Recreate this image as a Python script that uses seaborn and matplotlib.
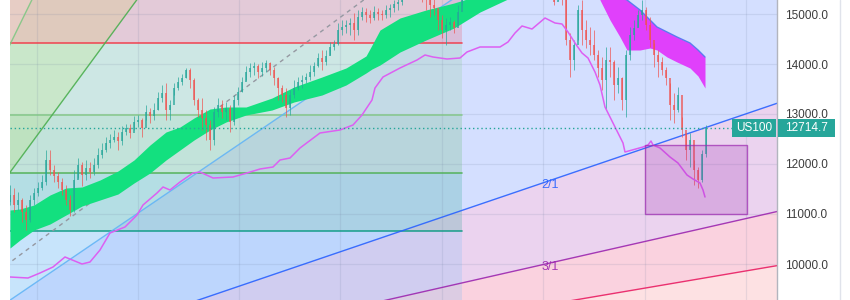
import numpy as np
import matplotlib
matplotlib.use("Agg")
import matplotlib.pyplot as plt
import seaborn as sns
from matplotlib.patches import Rectangle
from matplotlib.lines import Line2D
from matplotlib.transforms import blended_transform_factory

# ---------------- data (bar index on x, price on y) ----------------
first_open = 11250
closes = [11380,11180,11280,11040,10880,11280,11420,11520,11640,12080,
 11880,11760,11640,11480,11280,11080,11680,11980,11780,11920,
 11840,11980,12180,12280,12420,12480,12540,12460,12640,12720,
 12620,12840,12880,12720,13040,12960,13080,13320,13420,13080,
 13180,13520,13640,13720,13880,13680,13280,13080,12920,12780,
 12480,13040,13180,13040,13120,12840,13280,13440,13640,13840,
 13920,13960,13840,13920,14020,13880,13720,13520,13380,13120,
 13380,13520,13640,13680,13740,13840,13960,14120,14040,14160,
 14340,14400,14680,14740,14780,14820,14680,14940,15040,14980,
 14920,15040,15000,14980,15080,15120,15200,15240,15380,15440,
 15520,15580,15480,15380,15320,15180,15120,14880,14680,14780,
 14840,14720,15040,15380,15580,15780,15880,15980,15880,16080,
 16180,16080,16280,16380,16520,16680,16580,16720,16480,16380,
 16520,16280,15980,16180,15880,15580,15240,15480,15380,14480,
 14080,14380,15080,14680,14480,14380,14180,13920,13680,14080,
 14040,13580,13720,13280,14180,14580,14720,14980,15080,14780,
 14480,14180,14040,13880,13720,13180,13080,13380,12680,12280,
 12480,11880,11680,12200,12714.7]
highs = [11580,11520,11440,11320,11180,11380,11520,11640,11780,12280,
 12280,11980,11840,11720,11580,11380,11880,12120,12040,12080,
 12040,12120,12320,12420,12540,12600,12680,12640,12760,12800,
 12800,12960,12980,12920,13180,13120,13220,13440,13580,13620,
 13280,13620,13740,13800,13920,13920,13720,13320,13320,13080,
 12880,13140,13320,13280,13240,13180,13380,13540,13740,13960,
 14020,14040,14000,14040,14080,14040,13940,13740,13580,13520,
 13480,13680,13740,13780,13820,13980,14040,14220,14280,14280,
 14440,14480,14820,14880,14880,14920,15020,15080,15140,15120,
 15080,15160,15120,15080,15180,15200,15280,15340,15480,15560,
 15640,15680,15640,15520,15480,15380,15320,15080,14980,14920,
 14940,14880,15180,15480,15700,15880,15980,16080,16020,16180,
 16280,16220,16380,16480,16600,16740,16720,16760,16740,16560,
 16600,16560,16320,16260,16200,15900,15480,15680,15580,15380,
 14620,14480,15180,15280,14880,14740,14680,14280,14140,14340,
 14340,14080,13940,13740,14280,14740,14880,15080,15280,15140,
 14940,14420,14280,14140,13940,13620,13420,13540,12940,12620,
 12620,12080,11940,12280,12780]
lows = [11180,11040,11080,10840,10680,10840,11180,11360,11480,11580,
 11780,11640,11520,11380,11180,10960,11040,11720,11560,11680,
 11720,11780,11920,12120,12240,12320,12440,12280,12380,12580,
 12520,12680,12740,12540,12880,12820,12880,13080,13240,12880,
 12880,13380,13480,13580,13720,13520,13180,12940,12680,12480,
 12280,12380,12940,12920,12880,12640,12780,13180,13440,13680,
 13740,13780,13720,13760,13840,13780,13580,13280,13240,12940,
 12980,13320,13480,13520,13620,13680,13760,13940,13880,13980,
 14180,14280,14380,14580,14620,14580,14480,14580,14880,14840,
 14820,14880,14880,14880,14920,14940,15040,15080,15180,15320,
 15380,15440,15360,15240,15080,14940,14980,14680,14520,14380,
 14680,14620,14780,15180,15400,15560,15740,15820,15780,15860,
 16020,15980,16060,16240,16340,16480,16460,16540,16400,16240,
 16300,16180,15880,15940,15780,15480,15180,15280,15180,14380,
 13740,13880,14480,14380,14320,14180,14080,13740,13480,13080,
 13740,13280,13420,13080,12940,14080,14480,14740,14880,14680,
 14340,13940,13740,13780,13580,12880,12820,13040,12540,12080,
 11940,11580,11520,11640,12150]
last_price = 12714.7
symbol = "US100"

# MA band (green)
band_x  = [0, 2.5, 6, 10, 14, 18, 22.5, 27, 31, 35, 39, 42.5, 46, 50, 54, 59, 65.5, 71, 78, 84, 89, 90.5, 92.5, 97.5, 104, 111, 117.5, 125, 135]
band_hi = [11080,11100,11180,11380,11520,11540,11680,11860,12080,12380,12640,12740,12920,13100,13140,13140,13320,13540,13740,13920,14160,14380,14680,14920,15080,15220,15380,15580,16200]
band_lo = [10320,10480,10680,10800,10980,11160,11280,11400,11620,11820,12080,12280,12480,12680,12840,12980,13080,13240,13380,13580,13820,13900,13980,14240,14480,14720,15040,15320,15800]

# magenta moving average
ma_x = [0,4.5,7.5,10.75,13.75,18,20,22.5,25,28.75,31.75,33.25,36.75,38.25,40,42.5,45.75,47.5,50.75,55.75,59.25,62.5,65.75,67.5,70,72.5,77.5,82.5,85.75,88,90.5,91.25,93.25,97.5,101.75,103.75,105.75,109.25,112.5,114.25,117.5,122.5,124.5,126.25,128,130.5,133.75,136.25,138,139.5,141.25,143,144.5,146.25,147.5,148.75,150.75,153.25,153.75,158.25,159.5,160.25,160.75,162.5,165,167,169.25,170.75,172.5,173.25,173.75]
ma_y = [9740,9720,9820,9940,10140,10000,10040,10280,10620,10740,10980,11180,11420,11540,11480,11640,11820,11840,11720,11740,11820,11900,11940,12080,12120,12320,12620,12680,12780,12980,13280,13520,13740,13920,14080,14180,14140,14100,14120,14240,14340,14340,14440,14620,14760,14700,14920,14820,14800,14640,14420,14220,14120,13840,13580,13140,12820,12420,12240,12340,12380,12460,12380,12320,12140,12020,11780,11700,11620,11480,11340]

# magenta cloud
cloud_x  = [147.5,150,152.5,154.25,157.5,160,161.75,164.25,166.75,170,172,173.75]
cloud_hi = [15580,15440,15340,15280,15080,14880,14740,14640,14540,14420,14280,14140]
cloud_lo = [15280,14880,14540,14280,14280,14320,14280,14140,14040,13920,13760,13520]

# Gann fan
gann_origin = (-47, 6720)
gann_unit_slope = 54.4
gann_names  = ["1/4", "1/3", "1/2", "1/1", "2/1", "3/1", "4/1", "8/1"]
gann_ratio  = [4, 3, 2, 1, 1/2, 1/3, 1/4, 1/8]
gann_colors = ["#089981", "#81C784", "#4CAF50", "#64B5F6", "#2962FF", "#9C27B0", "#E91E63", "#F23645"]

# Fibonacci retracement
fib_low  = (-52.75, 6900)
fib_high = (113, 16740)
fib_levels = [0, 0.236, 0.382, 0.5, 0.618, 0.786, 1]
fib_colors = ["#787B86", "#F23645", "#81C784", "#4CAF50", "#089981", "#64B5F6", "#787B86"]

# rectangle zone
rect_x = (158.75, 184.25)
rect_y = (11000, 12380)

grid_x = [6.75, 32, 57.25, 82.5, 108, 133.25, 158.75, 184]
price_ticks = [10000, 11000, 12000, 13000, 14000, 15000]

# ---------------- plot ----------------
sns.set_theme(style="white")
plt.rcParams["font.family"] = ["Liberation Sans", "DejaVu Sans"]

fig = plt.figure(figsize=(8.5, 3), dpi=100)
fig.patch.set_facecolor("white")
ax = fig.add_axes([10/850, 0, 767/850, 1])
ax.set_facecolor("white")
X0, X1 = 0, 191.75
ax.set_xlim(X0, X1)
ax.set_ylim(9280, 15280)

# Gann fan zones
gx = np.array([gann_origin[0], X1 + 5])
glines = [gann_origin[1] + gann_unit_slope * r * (gx - gann_origin[0]) for r in gann_ratio]
for k in range(len(glines) - 1):
    a = 0.15 if k == len(glines) - 2 else 0.2
    ax.fill_between(gx, glines[k], glines[k + 1], color=gann_colors[k + 1], alpha=a, lw=0, zorder=0)

# Fib bands
fx = np.array([fib_low[0], fib_high[0]])
fib_prices = [fib_high[1] - lv * (fib_high[1] - fib_low[1]) for lv in fib_levels]
for k in range(len(fib_prices) - 1):
    ax.fill_between(fx, fib_prices[k], fib_prices[k + 1], color=fib_colors[k + 1], alpha=0.2, lw=0, zorder=1)

# grid
for gxv in grid_x:
    ax.axvline(gxv, color="#6f7fa0", alpha=0.15, lw=0.9, zorder=1.5)
for p in price_ticks:
    ax.axhline(p, color="#6f7fa0", alpha=0.15, lw=0.9, zorder=1.5)

# green band
ax.fill_between(band_x, band_lo, band_hi, color="#13E07F", lw=0, zorder=3)
# magenta cloud
ax.fill_between(cloud_x, cloud_lo, cloud_hi, color="#E040FB", lw=0, zorder=3)
ax.plot(cloud_x, cloud_hi, color="#5B7BF0", lw=1, zorder=3.2)

# fib lines and trend line
for k, pr in enumerate(fib_prices):
    ax.plot(fx, [pr, pr], color=fib_colors[k], lw=1.2, alpha=0.85, zorder=2)
ax.plot([fib_low[0], fib_high[0]], [fib_low[1], fib_high[1]], color="#9598a1", lw=1,
        dashes=(3, 3), zorder=2.5)

# Gann lines
for k, gl in enumerate(glines):
    ax.plot(gx, gl, color=gann_colors[k], lw=1, alpha=0.9, zorder=2.2)

# candles
opens = [first_open] + closes[:-1]
idx = np.arange(len(closes))
for i, o, h, l, c in zip(idx, opens, highs, lows, closes):
    col = "#26A69A" if c >= o else "#EF5350"
    ax.plot([i, i], [l, h], color=col, lw=0.7, alpha=0.7, zorder=4, solid_capstyle="butt")
    lo_b, hi_b = min(o, c), max(o, c)
    if hi_b - lo_b < 20:
        hi_b = lo_b + 20
    ax.add_patch(Rectangle((i - 0.3, lo_b), 0.6, hi_b - lo_b, facecolor=col, edgecolor="none",
                           alpha=0.7, zorder=4))

# magenta MA line
sns.lineplot(x=ma_x, y=ma_y, ax=ax, color="#DD5FF2", lw=1.1, zorder=5, estimator=None, sort=False)

# rectangle
ax.add_patch(Rectangle((rect_x[0], rect_y[0]), rect_x[1] - rect_x[0], rect_y[1] - rect_y[0],
                       facecolor=(0.612, 0.153, 0.69, 0.22), edgecolor=(0.612, 0.153, 0.69, 0.7),
                       lw=1, zorder=5))

# gann labels
ratio_map = dict(zip(gann_names, gann_ratio))
lab_x = 135
for name, col in [("2/1", "#2962FF"), ("3/1", "#9C27B0")]:
    py = gann_origin[1] + gann_unit_slope * ratio_map[name] * (lab_x - gann_origin[0])
    ax.text(lab_x, py - 90, name, color=col, alpha=0.9, fontsize=9, ha="center", va="center", zorder=6)

# last price line
ax.axhline(last_price, color="#26A69A", lw=1, ls=(0, (1, 2)), zorder=6)

# axes styling
for s in ["left", "top", "bottom"]:
    ax.spines[s].set_visible(False)
ax.spines["right"].set_color("#b2b5be")
ax.spines["right"].set_linewidth(1)
ax.yaxis.tick_right()
ax.set_yticks(price_ticks)
ax.set_yticklabels([f"{p:.1f}" for p in price_ticks])
ax.tick_params(axis="y", length=0, pad=6, labelsize=8.5, labelcolor="#3c3c3c")
ax.set_xticks([])

# price tags
tr = blended_transform_factory(ax.transAxes, ax.transData)
ax.add_patch(Rectangle((0.9413, last_price - 180), 0.0574, 360, transform=tr, facecolor="#26A69A",
                       edgecolor="none", clip_on=False, zorder=10))
ax.text(0.970, last_price, symbol, transform=tr, color="white", fontsize=8.5, ha="center",
        va="center", zorder=11, clip_on=False)
ax.add_patch(Rectangle((1.0013, last_price - 180), 0.0743, 360, transform=tr, facecolor="#26A69A",
                       edgecolor="none", clip_on=False, zorder=10))
ax.text(1.0385, last_price, f"{last_price:.1f}", transform=tr, color="white", fontsize=8.5,
        ha="center", va="center", zorder=11, clip_on=False)

fig.add_artist(Line2D([840/850, 840/850], [0, 1], color="#e0e3eb", lw=1, transform=fig.transFigure))

fig.savefig("out.png", dpi=100)
